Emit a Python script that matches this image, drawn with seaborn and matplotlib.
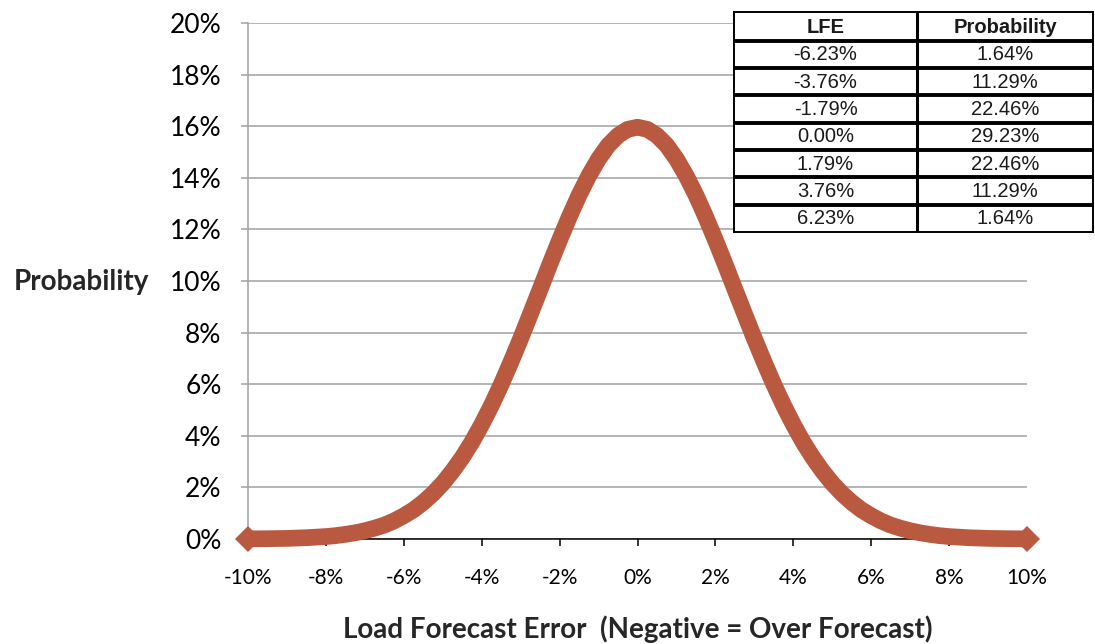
import matplotlib
matplotlib.use("Agg")
import matplotlib.pyplot as plt
from matplotlib.ticker import PercentFormatter
import seaborn as sns
import pandas as pd

# Load forecast error (percent) and probability of each error level (percent)
lfe_axis = [-10.0, -9.5, -9.0, -8.5, -8.0, -7.75, -7.5, -7.25, -7.0, -6.75, -6.5,
            -6.25, -6.0, -5.75, -5.5, -5.25, -5.0, -4.75, -4.5, -4.25, -4.0,
            -3.75, -3.5, -3.25, -3.0, -2.75, -2.5, -2.25, -2.0, -1.75, -1.5,
            -1.25, -1.0, -0.75, -0.5, -0.25, 0.0,
            0.25, 0.5, 0.75, 1.0, 1.25, 1.5, 1.75, 2.0, 2.25, 2.5,
            2.75, 3.0, 3.25, 3.5, 3.75, 4.0, 4.25, 4.5, 4.75, 5.0,
            5.25, 5.5, 5.75, 6.0, 6.25, 6.5, 6.75, 7.0, 7.25, 7.5,
            7.75, 8.0, 8.5, 9.0, 9.5, 10.0]
probability = [0.005, 0.012, 0.024, 0.05, 0.095, 0.13, 0.18, 0.24, 0.32, 0.42, 0.54,
               0.70, 0.90, 1.13, 1.42, 1.76, 2.16, 2.63, 3.16, 3.76, 4.44,
               5.18, 5.99, 6.86, 7.77, 8.72, 9.68, 10.65, 11.59, 12.49, 13.33,
               14.08, 14.73, 15.26, 15.64, 15.88, 15.96,
               15.88, 15.64, 15.26, 14.73, 14.08, 13.33, 12.49, 11.59, 10.65, 9.68,
               8.72, 7.77, 6.86, 5.99, 5.18, 4.44, 3.76, 3.16, 2.63, 2.16,
               1.76, 1.42, 1.13, 0.90, 0.70, 0.54, 0.42, 0.32, 0.24, 0.18,
               0.13, 0.095, 0.05, 0.024, 0.012, 0.005]

# Discrete approximation shown in the table
table_lfe = ["-6.23%", "-3.76%", "-1.79%", "0.00%", "1.79%", "3.76%", "6.23%"]
table_prob = ["1.64%", "11.29%", "22.46%", "29.23%", "22.46%", "11.29%", "1.64%"]

x_ticks = list(range(-10, 11, 2))
y_ticks = list(range(0, 21, 2))

sns.set_style("white")
plt.rcParams["font.family"] = ["Lato", "DejaVu Sans"]
plt.rcParams["axes.unicode_minus"] = False

W, H = 1095, 644
fig = plt.figure(figsize=(W / 100, H / 100), dpi=100)
ax = fig.add_axes([248 / W, 1 - 539 / H, (1027 - 248) / W, (539 - 23) / H])

df = pd.DataFrame({"lfe": lfe_axis, "prob": probability})
curve_color = "#B9593F"
sns.lineplot(data=df, x="lfe", y="prob", ax=ax, color=curve_color,
             linewidth=12.0, solid_capstyle="butt", solid_joinstyle="round",
             marker="D", markersize=13, markevery=[0, len(df) - 1],
             markeredgewidth=0, zorder=3, clip_on=False)

ax.set_xlim(-10, 10)
ax.set_ylim(0, 20)
ax.xaxis.set_major_formatter(PercentFormatter(xmax=100, decimals=0))
ax.yaxis.set_major_formatter(PercentFormatter(xmax=100, decimals=0))
ax.set_xticks(x_ticks)
ax.set_yticks(y_ticks)

# Horizontal gridlines only
ax.grid(axis="y", color="#A0A0A0", linewidth=1.1, zorder=0)
ax.grid(axis="x", visible=False)
ax.set_axisbelow(True)

for side in ("top", "right"):
    ax.spines[side].set_visible(False)
ax.spines["left"].set_color("#A0A0A0")
ax.spines["left"].set_linewidth(1.1)
ax.spines["bottom"].set_color("black")
ax.spines["bottom"].set_linewidth(1.1)
ax.spines["bottom"].set_zorder(2)

ax.tick_params(axis="y", which="major", left=True, length=5, width=1.1,
               color="#A0A0A0", pad=14, labelsize=19, labelcolor="black")
ax.tick_params(axis="x", which="major", bottom=True, length=5, width=1.1,
               color="black", pad=16, labelsize=15, labelcolor="black")

ax.set_xlabel("")
ax.set_ylabel("")
fig.text(81 / W, 1 - 282 / H, "Probability", ha="center", va="center",
         fontsize=20, fontweight="bold")
fig.text(638 / W, 1 - 629 / H, "Load Forecast Error  (Negative = Over Forecast)",
         ha="center", va="center", fontsize=20, fontweight="bold")

# Lookup table in the upper-right corner
tax = fig.add_axes([734 / W, 1 - 232 / H, (1093 - 734) / W, (232 - 12) / H])
n_rows = len(table_lfe)
header_h = 1.05
total_h = n_rows + header_h
tax.set_xlim(0, 1)
tax.set_ylim(total_h, 0)
tax.set_facecolor("white")
tax.set_xticks([])
tax.set_yticks([])
for s in tax.spines.values():
    s.set_color("black")
    s.set_linewidth(1.4)
split = 0.51
tax.axvline(split, color="black", linewidth=2.2)
tbl_font = ["Liberation Sans", "DejaVu Sans"]
tax.text(split / 2, header_h / 2 + 0.04, "LFE", ha="center", va="center",
         fontsize=14.5, fontweight="bold", family=tbl_font, color="#1a1a1a")
tax.text((1 + split) / 2, header_h / 2 + 0.04, "Probability", ha="center",
         va="center", fontsize=14.5, fontweight="bold", family=tbl_font,
         color="#1a1a1a")
for i, (lfe, prob) in enumerate(zip(table_lfe, table_prob)):
    top = header_h + i
    tax.axhline(top, color="black", linewidth=2.8)
    tax.text(split / 2, top + 0.52, lfe, ha="center", va="center",
             fontsize=14.5, family=tbl_font, color="#1a1a1a")
    tax.text((1 + split) / 2, top + 0.52, prob, ha="center", va="center",
             fontsize=14.5, family=tbl_font, color="#1a1a1a")

fig.savefig("out.png", dpi=100)
